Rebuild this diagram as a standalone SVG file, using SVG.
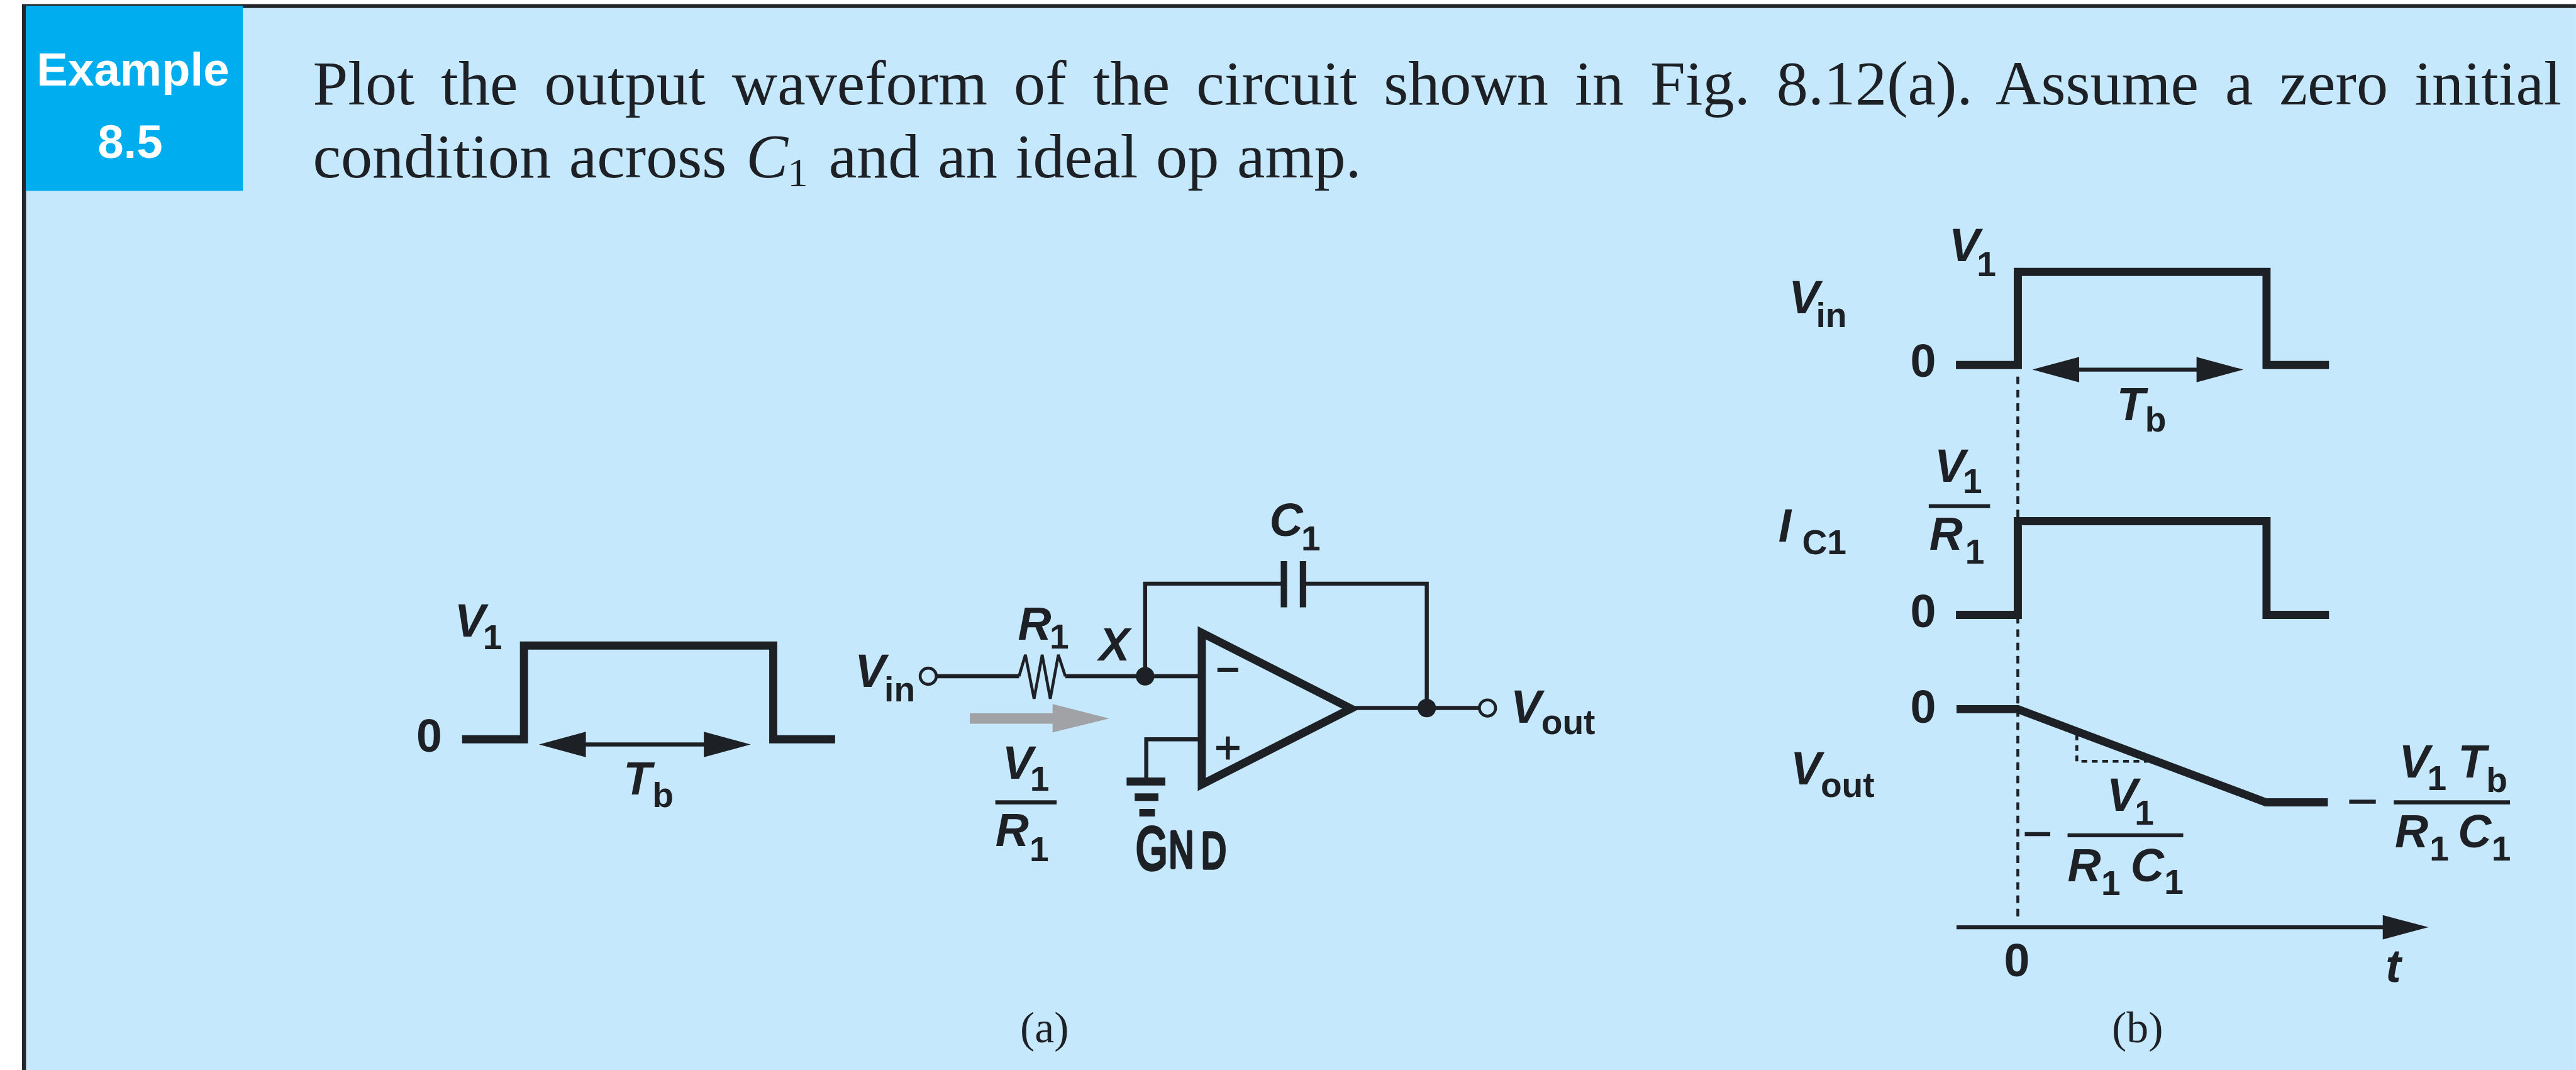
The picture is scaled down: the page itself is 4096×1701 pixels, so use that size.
<svg xmlns="http://www.w3.org/2000/svg" width="4096" height="1701" viewBox="0 0 4096 1701">
<style>
.w{fill:none;stroke:#1d2024;stroke-width:7}
.t{fill:none;stroke:#1d2024;stroke-width:14;stroke-linejoin:miter}
.d{fill:none;stroke:#1d2024;stroke-width:5}
.h{fill:#1d2024}
.o{fill:#c5e8fc;stroke:#1d2024;stroke-width:5}
text{font-family:"Liberation Sans",Arial,sans-serif;fill:#1d2024}
.l{font-size:80px;font-weight:700;font-style:italic}
.n{font-size:80px;font-weight:700}
.s{font-size:60px;font-weight:700;font-style:normal}
.b{font-family:"Liberation Serif","Times New Roman",serif;font-size:109px}
.c{font-family:"Liberation Serif","Times New Roman",serif;font-size:76px}
.e{font-size:81px;font-weight:700;fill:#fff;text-anchor:middle}
</style>
<defs>
<path id="al" class="h" d="M0 0L81 -22V22Z"/>
<path id="ar" class="h" d="M0 0L-81 -22V22Z"/>
</defs>
<g transform="scale(0.9196)">
<rect width="4454" height="1850" fill="#fff"/>
<rect x="41" y="10" width="4413" height="1840" fill="#c5e8fc"/>
<g id="frame"><path d="M4454 10.500H41.500V1850" fill="none" stroke="#23272b" stroke-width="7"/></g>
<g id="badge"><rect x="45" y="10" width="375" height="320" fill="#00aeef"/>
<text class="e" x="230" y="148">Example</text><text class="e" x="225" y="273">8.5</text></g>
<g id="statement">
<text class="b" x="541" y="180" word-spacing="18.500">Plot the output waveform of the circuit shown in Fig. 8.12(a). Assume a zero initial</text>
<text class="b" x="541" y="307" word-spacing="4">condition across<tspan x="1290" font-style="italic">C</tspan><tspan x="1362" y="322" font-size="70">1</tspan><tspan x="1433" y="307">and an ideal op amp.</tspan></text>
</g>
<g id="connectors">
<path class="w" d="M1619 1169H1762M1842 1169H2074M1980 1169V1009H2220M2253 1009H2467V1224M2340 1224H2558M2074 1278H1982V1349"/>
<path id="resistor" d="M1762 1169L1773 1132L1788 1208L1802 1132L1816 1208L1830 1132L1842 1169" fill="none" stroke="#1d2024" stroke-width="5"/>
</g>
<g id="input-pulse">
<path class="t" d="M799 1278H906V1116H1337V1278H1444"/>
<path class="w" d="M1000 1287H1230"/>
<use href="#al" x="932" y="1287"/><use href="#ar" x="1298" y="1287"/>
<text class="l" x="786" y="1100">V<tspan class="s" x="835" y="1122">1</tspan></text>
<text class="n" x="720" y="1300">0</text>
<text class="l" x="1078" y="1373">T<tspan class="s" x="1128" y="1395">b</tspan></text>
</g>
<g id="node-x"><circle cx="1980" cy="1169" r="16" class="h"/></g>
<g id="node-out"><circle cx="2467" cy="1224" r="16" class="h"/></g>
<g id="terminal-in"><circle cx="1605" cy="1169" r="14" class="o"/></g>
<g id="terminal-out"><circle cx="2572" cy="1224" r="14" class="o"/></g>
<g id="opamp">
<path d="M2078 1094V1356L2336 1225Z" fill="none" stroke="#1d2024" stroke-width="14"/>
<path class="w" d="M2105 1158H2141M2103 1293H2143M2123 1273V1313"/>
</g>
<g id="capacitor"><path d="M2220 970V1050M2253 970V1050" fill="none" stroke="#1d2024" stroke-width="11"/></g>
<g id="ground"><path d="M1948 1351H2015" fill="none" stroke="#1d2024" stroke-width="14"/><path d="M1962 1378H2003M1970 1405H1997" fill="none" stroke="#1d2024" stroke-width="13"/>
<text transform="translate(1964 1503) scale(.68 1)" font-size="88" stroke="#1d2024" stroke-width="6" stroke-linejoin="round"><tspan font-size="104">G</tspan><tspan x="84" y="-3">N</tspan><tspan x="166" y="-2">D</tspan></text></g>
<g id="current-arrow"><path d="M1677 1233H1820V1217L1918 1242L1820 1266V1251H1677Z" fill="#a0a2a6"/></g>
<g id="circuit-labels">
<text class="l" x="1478" y="1188">V<tspan class="s" x="1529" y="1213">in</tspan></text>
<text class="l" x="1760" y="1106">R<tspan class="s" x="1815" y="1121">1</tspan></text>
<text class="l" x="1900" y="1142">X</text>
<text class="l" x="2195" y="927">C<tspan class="s" x="2250" y="952">1</tspan></text>
<text class="l" x="2612" y="1249">V<tspan class="s" x="2665" y="1269">out</tspan></text>
<text class="l" x="1733" y="1346">V<tspan class="s" x="1781" y="1367">1</tspan></text>
<path class="w" d="M1721 1387H1827"/>
<text class="l" x="1721" y="1463">R<tspan class="s" x="1780" y="1489">1</tspan></text>
<text class="c" x="1806" y="1802" text-anchor="middle">(a)</text>
</g>
<g id="vin-wave">
<path class="t" d="M3382 631H3489V470H3919V631H4027"/>
<path class="w" d="M3580 639H3815"/>
<use href="#al" x="3514" y="639"/><use href="#ar" x="3879" y="639"/>
<text class="l" x="3370" y="451">V<tspan class="s" x="3418" y="477">1</tspan></text>
<text class="l" x="3093" y="541">V<tspan class="s" x="3140" y="565">in</tspan></text>
<text class="n" x="3303" y="651">0</text>
<text class="l" x="3660" y="726">T<tspan class="s" x="3709" y="746">b</tspan></text>
</g>
<g id="ic-wave">
<path class="t" d="M3382 1063H3489V901H3919V1063H4027"/>
<text class="l" x="3075" y="936">I<tspan class="s" x="3116" y="958">C1</tspan></text>
<text class="l" x="3345" y="833">V<tspan class="s" x="3394" y="853">1</tspan></text>
<path class="w" d="M3335 875H3441"/>
<text class="l" x="3336" y="950">R<tspan class="s" x="3398" y="974">1</tspan></text>
<text class="n" x="3303" y="1084">0</text>
</g>
<g id="vout-wave">
<path class="t" d="M3383 1226H3489L3918 1387H4025"/>
<path d="M3591 1270V1316H3714" class="d" stroke-dasharray="10 8"/>
<text class="n" x="3303" y="1249">0</text>
<text class="l" x="3096" y="1356">V<tspan class="s" x="3148" y="1378">out</tspan></text>
<path class="w" d="M3501 1442H3545M3575 1444H3775"/>
<text class="l" x="3643" y="1402">V<tspan class="s" x="3691" y="1426">1</tspan></text>
<text class="l" x="3575" y="1523">R<tspan class="s" x="3633" y="1547">1</tspan><tspan x="3684" y="1523">C</tspan><tspan class="s" x="3742" y="1545">1</tspan></text>
<path class="w" d="M4062 1386H4108M4139 1387H4340"/>
<text class="l" x="4148" y="1344">V<tspan class="s" x="4197" y="1366">1</tspan><tspan x="4250" y="1344">T</tspan><tspan class="s" x="4299" y="1369">b</tspan></text>
<text class="l" x="4141" y="1465">R<tspan class="s" x="4201" y="1488">1</tspan><tspan x="4250" y="1465">C</tspan><tspan class="s" x="4308" y="1488">1</tspan></text>
</g>
<g id="time-axis">
<path class="d" d="M3489 651V1590" stroke-dasharray="13 10"/>
<path class="w" d="M3383 1603H4130"/><path class="h" d="M4199 1603L4120 1582V1624Z"/>
<text class="n" x="3465" y="1688">0</text>
<text class="l" x="4125" y="1697">t</text>
<text class="c" x="3696" y="1802" text-anchor="middle">(b)</text>
</g>
</g>
</svg>
